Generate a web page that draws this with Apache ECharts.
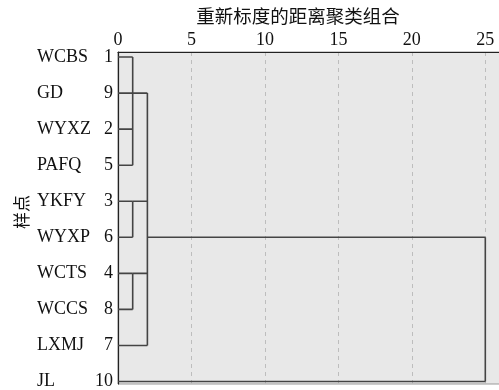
<!DOCTYPE html>
<html>
<head>
<meta charset="utf-8">
<script src="https://cdn.jsdelivr.net/npm/echarts@6/dist/echarts.min.js"></script>
<style>
  html, body { margin: 0; padding: 0; background: #fff; }
  #chart { width: 499px; height: 390px; }
</style>
</head>
<body>
<div id="chart"></div>
<script>
// Samples in dendrogram order, top to bottom, with their case numbers
const sampleNames = ['WCBS', 'GD', 'WYXZ', 'PAFQ', 'YKFY', 'WYXP', 'WCTS', 'WCCS', 'LXMJ', 'JL'];
const sampleIds = ['1', '9', '2', '5', '3', '6', '4', '8', '7', '10'];
const xTicks = [0, 5, 10, 15, 20, 25];

// Agglomeration steps: rows joined, rescaled distance, row that carries the new branch
const mergeRows = [[0, 1, 2, 3], [4, 5], [6, 7], [1, 4, 6, 8], [5, 9]];
const mergeDist = [1, 1, 1, 2, 25];
const mergeCarry = [1, 4, 6, 5, 5];

// Build the bracket segments in data space (distance, row)
const branchStart = sampleNames.map(() => 0);
const segments = [];
mergeRows.forEach((rows, k) => {
  const d = mergeDist[k];
  rows.forEach(r => {
    if (branchStart[r] < d) segments.push([[branchStart[r], r], [d, r]]);
  });
  segments.push([[d, Math.min(...rows)], [d, Math.max(...rows)]]);
  branchStart[mergeCarry[k]] = d;
});

const serif = '"Liberation Serif", "DejaVu Serif", serif';
const cjk = '"Noto Sans CJK SC", sans-serif';

const chart = echarts.init(document.getElementById('chart'), null, { renderer: 'canvas' });
chart.setOption({
  animation: false,
  title: {
    text: '重新标度的距离聚类组合',
    left: 293,
    top: 2,
    textAlign: 'center',
    textStyle: { fontFamily: cjk, fontSize: 18.5, fontWeight: 'normal', color: '#111' }
  },
  grid: {
    left: 118, right: -1, top: 52, bottom: 6,
    outerBoundsMode: 'none',
    containLabel: false,
    show: true,
    backgroundColor: '#e8e8e8',
    borderColor: '#9a9a9a',
    borderWidth: 1
  },
  xAxis: {
    type: 'value',
    position: 'top',
    min: 0, max: 26, interval: 5,
    axisLine: { show: true, onZero: false, lineStyle: { color: '#222', width: 1.2 } },
    axisTick: { show: false },
    axisLabel: {
      customValues: xTicks,
      margin: 3,
      fontFamily: serif, fontSize: 18, color: '#111'
    },
    splitLine: { show: true, lineStyle: { type: [4, 4], color: '#bdbdbd', width: 1 } }
  },
  yAxis: {
    type: 'value',
    inverse: true,
    min: -0.14, max: 9.07,
    name: '样点',
    nameLocation: 'middle',
    nameRotate: 90,
    nameGap: 88,
    nameMoveOverlap: false,
    nameTextStyle: { fontFamily: cjk, fontSize: 17, color: '#111', padding: [0, 0, 0, 12] },
    axisLine: { show: true, onZero: false, lineStyle: { color: '#222', width: 1.2 } },
    axisTick: { show: false },
    splitLine: { show: false },
    axisLabel: {
      customValues: sampleNames.map((_, i) => i),
      margin: 5,
      formatter: v => '{n|' + sampleNames[v] + '}{i|' + sampleIds[v] + '}',
      rich: {
        n: { width: 54, align: 'left', fontFamily: serif, fontSize: 18, color: '#111' },
        i: { width: 22, align: 'right', fontFamily: serif, fontSize: 18, color: '#111' }
      }
    }
  },
  series: segments.map(seg => ({
    type: 'line',
    data: seg,
    symbol: 'none',
    silent: true,
    lineStyle: { color: '#444', width: 1.6 }
  }))
});
</script>
</body>
</html>
